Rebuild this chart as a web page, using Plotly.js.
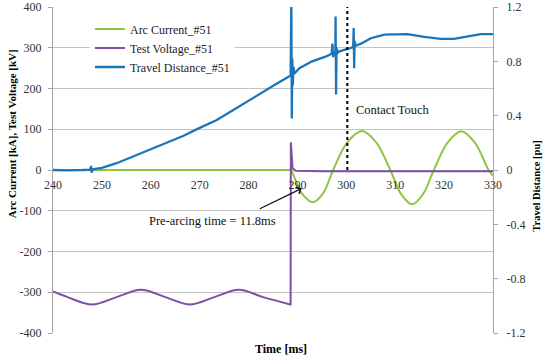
<!DOCTYPE html>
<html>
<head>
<meta charset="utf-8">
<script src="https://cdn.plot.ly/plotly-3.0.1.min.js"></script>
<style>html,body{margin:0;padding:0;background:#fff;}#chart{width:550px;height:363px;}</style>
</head>
<body>
<div id="chart"></div>
<script>
// ---- Data ----
const arcTime = [240, 288.0, 288.6, 290.8, 293.2, 295.3, 297.3, 300.2, 303.2, 306.1, 309.0, 311.2, 313.5, 315.7, 317.9, 320.7, 323.5, 326.3, 329.1, 330];
const arcCurrent = [0, 0, 0, -56, -79, -56, 0, 68, 96, 68, 0, -59, -84, -59, 0, 67, 95, 67, 0, -14];

const voltTimePre = [240, 243, 248, 253, 258, 263, 268, 273, 278, 283, 288.5];
const voltPre = [-298, -312, -330, -312, -294, -312, -330, -312, -294, -312, -330];
const voltTimePost = [288.5, 288.6, 288.65, 289.0, 289.6, 295, 330];
const voltPost = [-330, -330, 68, 4, -2, -3, -3];

const travelTime = [240, 243, 246, 247.6, 247.8, 247.9, 248.1, 250, 253, 256.4, 260, 263.2, 266.6, 270, 273.4, 276.8, 280.2,
  282.3, 285.3, 288.6, 288.75, 288.85, 288.95, 289.05, 289.2, 289.4, 290.4,
  293, 295.9, 297.0, 297.15, 297.3, 297.5, 297.75, 297.8, 297.9, 298.0,
  298.2, 298.6, 300.3, 301.4, 301.5, 301.6, 301.7, 301.9, 303, 305,
  307.8, 310, 312.5, 315.9, 319.3, 322, 324.7, 327.5, 330];
const travelDistance = [0.0, -0.003, 0.0, 0.003, 0.03, -0.02, 0.005, 0.016, 0.05, 0.10, 0.15, 0.195, 0.25, 0.31, 0.366, 0.44, 0.515,
  0.565, 0.625, 0.695, 1.25, 0.38, 0.82, 0.62, 0.76, 0.71, 0.75,
  0.80, 0.837, 0.855, 0.93, 0.83, 0.87, 0.86, 1.13, 0.555, 0.90,
  0.86, 0.874, 0.89, 0.905, 1.045, 0.75, 0.95, 0.915, 0.93, 0.97,
  0.996, 1.0, 1.0, 0.98, 0.965, 0.965, 0.98, 1.0, 1.0];

const xTickVals = [240, 250, 260, 270, 280, 290, 300, 310, 320, 330];
const leftTickVals = [-400, -300, -200, -100, 0, 100, 200, 300, 400];
const leftTickText = ['-400', '-300', '-200', '-100', '0', '100', '200', '300', '400'];
const rightTickVals = [-1.2, -0.8, -0.4, 0, 0.4, 0.8, 1.2];
const rightTickText = ['-1.2', '-0.8', '-0.4', '0', '0.4', '0.8', '1.2'];

const contactTouchTime = 300.2;
const prearcArrowHead = [290.9, -45];
const prearcArrowTail = [282.0, -97];

// ---- Styles ----
const FONT = 'Liberation Serif';
const GREEN = '#8cc63f';
const PURPLE = '#7f4fa1';
const BLUE = '#1b75bb';
const GRID = '#c4c4c4';
const AXIS = '#a6a6a6';

const traces = [
  {x: arcTime, y: arcCurrent, type: 'scatter', mode: 'lines', name: 'Arc Current_#51',
   line: {color: GREEN, width: 2, shape: 'spline', smoothing: 1}, legendgroup: 'a', yaxis: 'y'},
  {x: voltTimePre, y: voltPre, type: 'scatter', mode: 'lines', name: 'Test Voltage_#51',
   line: {color: PURPLE, width: 2, shape: 'spline', smoothing: 1}, legendgroup: 'b', yaxis: 'y'},
  {x: voltTimePost, y: voltPost, type: 'scatter', mode: 'lines', name: 'Test Voltage_#51',
   line: {color: PURPLE, width: 2}, legendgroup: 'b', showlegend: false, yaxis: 'y'},
  {x: travelTime, y: travelDistance, type: 'scatter', mode: 'lines', name: 'Travel Distance_#51',
   line: {color: BLUE, width: 2.3}, legendgroup: 'c', yaxis: 'y2'}
];

const layout = {
  width: 550, height: 363,
  margin: {l: 53, r: 57, t: 7, b: 30, pad: 0},
  paper_bgcolor: '#fff', plot_bgcolor: '#fff',
  font: {family: FONT, size: 12, color: '#222'},
  showlegend: true,
  legend: {x: 0.084, y: 0.977, xanchor: 'left', yanchor: 'top', bgcolor: '#fff',
           font: {family: FONT, size: 12, color: '#222'}, tracegroupgap: 6, traceorder: 'normal'},
  xaxis: {range: [240, 330], tickvals: xTickVals, ticks: '', showgrid: false, zeroline: false,
          showline: false, anchor: 'free', position: 0.5, ticklabelstandoff: 6,
          tickfont: {family: FONT, size: 12, color: '#333'}},
  yaxis: {range: [-400, 400], tickvals: leftTickVals, ticktext: leftTickText, showgrid: true,
          gridcolor: GRID, gridwidth: 1, zeroline: false, showline: true, linecolor: AXIS, linewidth: 1,
          ticks: 'outside', ticklen: 4, tickcolor: AXIS, ticklabelstandoff: 4,
          tickfont: {family: FONT, size: 12, color: '#333'}},
  yaxis2: {range: [-1.2, 1.2], tickvals: rightTickVals, ticktext: rightTickText, overlaying: 'y',
           side: 'right', showgrid: false, zeroline: false, showline: true, linecolor: AXIS, linewidth: 1,
           ticks: 'outside', ticklen: 4, tickcolor: AXIS, ticklabelstandoff: 6,
           tickfont: {family: FONT, size: 12, color: '#333'}},
  shapes: [
    {type: 'line', xref: 'x', yref: 'y', x0: contactTouchTime, x1: contactTouchTime, y0: 0, y1: 400,
     line: {color: '#000', width: 2, dash: 'dot'}}
  ],
  annotations: [
    {text: 'Contact Touch', xref: 'x', yref: 'y', x: 301.6, y: 148, xanchor: 'left', yanchor: 'middle',
     showarrow: false, font: {family: FONT, size: 12.5, color: '#111'}},
    {text: 'Pre-arcing time = 11.8ms', xref: 'x', yref: 'y', x: 272.6, y: -124, xanchor: 'center', yanchor: 'middle',
     showarrow: false, font: {family: FONT, size: 12.5, color: '#111'}},
    {text: '', xref: 'x', yref: 'y', x: prearcArrowHead[0], y: prearcArrowHead[1],
     axref: 'x', ayref: 'y', ax: prearcArrowTail[0], ay: prearcArrowTail[1],
     showarrow: true, arrowhead: 4, arrowsize: 1.2, arrowwidth: 1.2, arrowcolor: '#111', standoff: 0, startstandoff: 0},
    {text: '<b>Arc Current [kA], Test Voltage [kV]</b>', xref: 'paper', yref: 'paper', x: -0.093, y: 0.61,
     textangle: -90, showarrow: false, xanchor: 'center', yanchor: 'middle',
     font: {family: FONT, size: 11, color: '#000'}},
    {text: '<b>Travel Distance [pu]</b>', xref: 'paper', yref: 'paper', x: 1.1, y: 0.449,
     textangle: -90, showarrow: false, xanchor: 'center', yanchor: 'middle',
     font: {family: FONT, size: 10.5, color: '#000'}},
    {text: '<b>Time [ms]</b>', xref: 'paper', yref: 'paper', x: 0.518, y: -0.049,
     showarrow: false, xanchor: 'center', yanchor: 'middle',
     font: {family: FONT, size: 12, color: '#000'}}
  ]
};

Plotly.newPlot('chart', traces, layout, {staticPlot: true, displayModeBar: false});
</script>
</body>
</html>
